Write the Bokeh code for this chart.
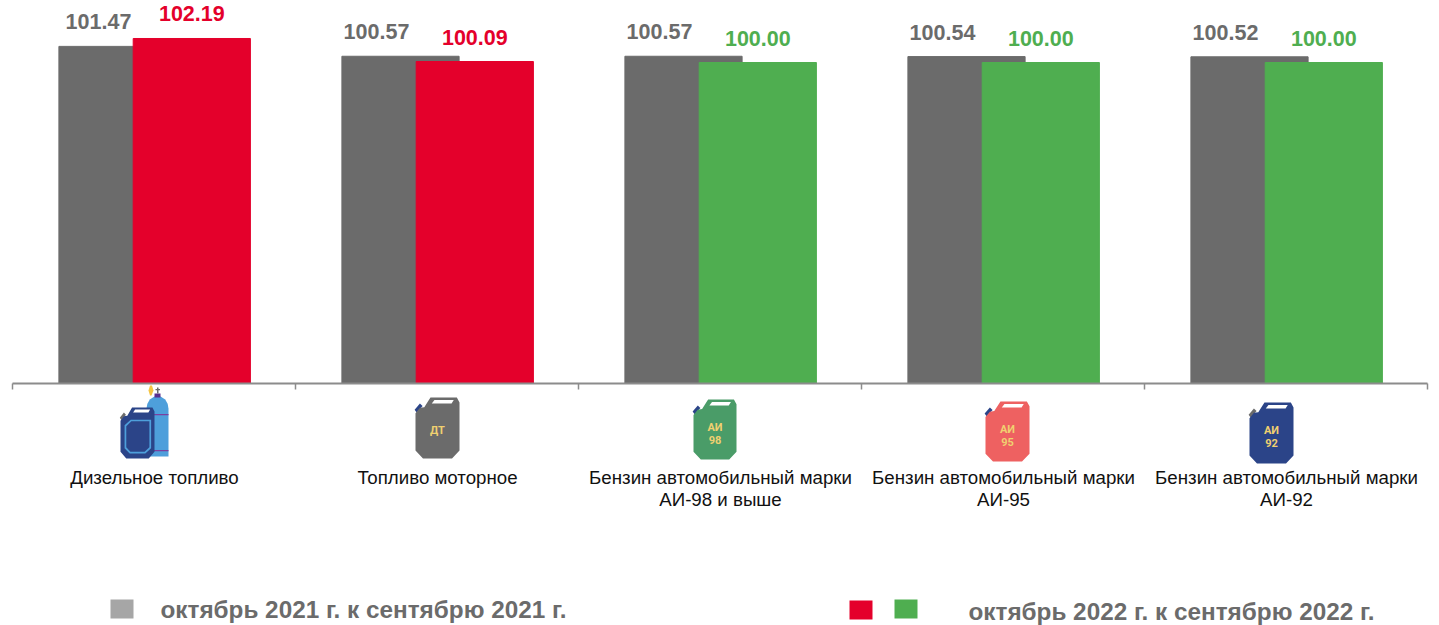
from bokeh.plotting import figure
from bokeh.models import ColumnDataSource, LinearAxis, FixedTicker, Range1d
from bokeh.core.properties import value
from bokeh.embed import file_html
from bokeh.resources import INLINE

categories = ["Дизельное топливо", "Топливо моторное",
              "Бензин автомобильный марки\nАИ-98 и выше",
              "Бензин автомобильный марки\nАИ-95",
              "Бензин автомобильный марки\nАИ-92"]
values_2021 = [101.47, 100.57, 100.57, 100.54, 100.52]
values_2022 = [102.19, 100.09, 100.00, 100.00, 100.00]
labels_2021 = ["101.47", "100.57", "100.57", "100.54", "100.52"]
labels_2022 = ["102.19", "100.09", "100.00", "100.00", "100.00"]
legend_2021 = "октябрь 2021 г. к сентябрю 2021 г."
legend_2022 = "октябрь 2022 г. к сентябрю 2022 г."

GRAY, RED, GREEN = "#6b6b6b", "#e4002b", "#4fae50"
FONT = "Liberation Sans"
W, H = 1439, 625
ORIGIN = 0
PX_GROUP = 283.0
PX_UNIT = 10.96
BASE = 100 - (382.5 - 62) / PX_UNIT

def X(px):  # picture px -> data x
    return (px - 12) / PX_GROUP
def Y(py):  # picture px -> data y
    return 100 + (62 - py) / PX_UNIT

p = figure(width=W, height=H, output_backend="svg", toolbar_location=None,
           x_range=Range1d(X(ORIGIN), X(ORIGIN + W)), y_range=Range1d(Y(ORIGIN + H), Y(ORIGIN)),
           min_border=0, outline_line_color=None, background_fill_color="white")
p.grid.visible = False
p.axis.visible = False

n = len(categories)
colors_2022 = [RED if v > 100.0 else GREEN for v in values_2022]
src = ColumnDataSource(dict(
    x21=[i + X(117) for i in range(n)], x22=[i + X(191.3) for i in range(n)],
    xl21=[i + X(98 if i == 0 else 93) for i in range(n)],
    v21=values_2021, v22=values_2022, c22=colors_2022,
    l21=labels_2021, l22=labels_2022,
))
bw = 117.2 / PX_GROUP
p.vbar(x="x21", top="v21", bottom=BASE, width=bw, color=GRAY, source=src)
p.vbar(x="x22", top="v22", bottom=BASE, width=bw, color="c22", source=src)
p.text(x="xl21", y="v21", text="l21", source=src, text_font=value(FONT), text_font_style="bold",
       text_font_size="21.5px", text_color=GRAY, text_align="center",
       text_baseline="alphabetic", y_offset=-24.5)
p.text(x="x22", y="v22", text="l22", source=src, text_font=value(FONT), text_font_style="bold",
       text_font_size="21.5px", text_color="c22", text_align="center",
       text_baseline="alphabetic", y_offset=-24.5)

# category axis: tick marks on group boundaries, labels at group centres
ticks = list(range(n + 1))
tick_axis = LinearAxis(fixed_location=BASE, ticker=FixedTicker(ticks=ticks), bounds=(0, n),
                       axis_line_color="#8c8c8c", axis_line_width=2,
                       major_tick_line_color="#8c8c8c", major_tick_line_width=1.5,
                       major_tick_in=0, major_tick_out=6, minor_tick_line_color=None,
                       major_label_overrides={t: "" for t in ticks})
p.add_layout(tick_axis, "below")
label_axis = LinearAxis(fixed_location=BASE, ticker=FixedTicker(ticks=[i + X(154) for i in range(n)]),
                        axis_line_color=None, major_tick_line_color=None, minor_tick_line_color=None,
                        major_tick_in=0, major_tick_out=0, major_label_standoff=84,
                        major_label_overrides={i + X(154): c for i, c in enumerate(categories)},
                        major_label_text_font=FONT, major_label_text_font_size="18.7px",
                        major_label_text_color="#111111", major_label_text_line_height=1.05)
p.add_layout(label_axis, "below")

# --- icons ---
CAN = [(.34, 0), (.94, 0), (1, .08), (1, .87), (.83, 1), (.17, 1), (0, .87), (0, .26), (.1, .17), (.2, .16)]
HANDLE = [(.43, .04), (.87, .04), (.82, .1), (.37, .1)]
SPOUT = [(-.02, .2), (.1, .1), (.16, .14), (.03, .25)]

def poly(pts, x0, y0, w, h, color):
    p.patch([X(x0 + a * w) for a, b in pts], [Y(y0 + b * h) for a, b in pts], color=color, line_width=0)

def can(x0, y0, w, h, color, spout, texts):
    poly(SPOUT, x0, y0, w, h, spout)
    poly(CAN, x0, y0, w, h, color)
    poly(HANDLE, x0, y0, w, h, "white")
    for t, py in texts:
        p.text([X(x0 + w / 2)], [Y(py)], text=[t], text_font=value("Roboto"), text_font_style="bold",
               text_font_size="11px", text_color="#f0d070", text_align="center", text_baseline="middle")

# diesel + gas cylinder
poly([(.36, 0), (.64, 0), (.85, .05), (.96, .12), (1, .2), (1, 1), (0, 1), (0, .2), (.04, .12), (.15, .05)],
     146, 396, 22, 60, "#4e9fdb")
poly([(0, 0), (1, 0), (1, 1), (0, 1)], 154, 393, 6, 4, "#5b2f8f")
poly([(0, 0), (1, 0), (1, 1), (0, 1)], 156.5, 387, 1.5, 6, "#6b6b6b")
poly([(0, 0), (1, 0), (1, 1), (0, 1)], 155, 388.5, 4.5, 1.2, "#6b6b6b")
poly([(0, 0), (1, 0), (1, 1), (0, 1)], 146, 413.5, 22, 1.3, "#7b3f9f")
poly([(0, 0), (1, 0), (1, 1), (0, 1)], 146, 449.5, 22, 1.3, "#7b3f9f")
poly([(.3, 0), (.7, 0), (1, .5), (.6, 1), (.3, 1), (0, .5)], 148, 385, 5, 10, "#f5c542")
poly(SPOUT, 120, 407, 34, 51, "#6b6b6b")
poly(CAN, 120, 407, 34, 51, "#2b4488")
poly(HANDLE, 120, 407, 34, 51, "white")
poly([(.12, .35), (.3, .24), (.9, .24), (.9, .8), (.73, .9), (.27, .9), (.12, .8)], 120, 407, 34, 51, "#4e9fdb")
poly([(.17, .37), (.32, .27), (.85, .27), (.85, .78), (.71, .87), (.29, .87), (.17, .78)], 120, 407, 34, 51, "#2b4488")

can(415, 397, 44, 61, GRAY, "#2b4488", [("ДТ", 430)])
can(693, 399, 43, 60, "#4a9c68", "#2b4488", [("АИ", 427), ("98", 439)])
can(985, 401, 44, 60, "#ee6161", "#2b4488", [("АИ", 429), ("95", 441)])
can(1249, 402, 44, 61, "#2b4488", "#6b6b6b", [("АИ", 430), ("92", 442)])

# --- legend ---
def square(px, py, color):
    p.quad(left=[X(px)], right=[X(px + 23)], top=[Y(py)], bottom=[Y(py + 19)], color=color, line_width=0)

square(110, 599, "#a6a6a6")
square(849, 600, RED)
square(894, 599, GREEN)
for t, px, py in [(legend_2021, 160, 609), (legend_2022, 968, 611)]:
    p.text([X(px)], [Y(py)], text=[t], text_font=value(FONT), text_font_style="bold", text_font_size="24.3px",
           text_color=GRAY, text_align="left", text_baseline="alphabetic")

open("out.html", "w").write(file_html(p, INLINE))
